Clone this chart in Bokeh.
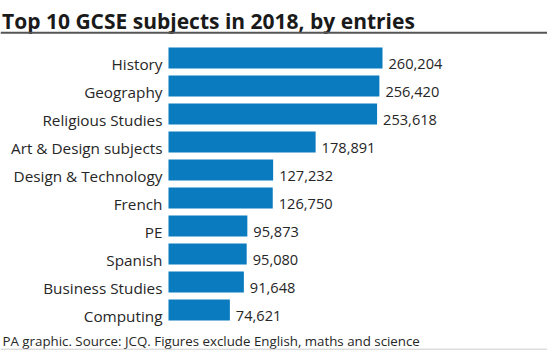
from bokeh.plotting import figure
from bokeh.models import Range1d, Label, Span, ColumnDataSource
from bokeh.core.properties import value
from bokeh.embed import file_html
from bokeh.resources import INLINE

title_text = "Top 10 GCSE subjects in 2018, by entries"
footer_text = "PA graphic. Source: JCQ. Figures exclude English, maths and science"
subjects = ["History", "Geography", "Religious Studies", "Art & Design subjects",
            "Design & Technology", "French", "PE", "Spanish", "Business Studies", "Computing"]
entries = [260204, 256420, 253618, 178891, 127232, 126750, 95873, 95080, 91648, 74621]

FONT = "Open Sans"
BAR = "#0b7bbf"
TXT = "#262626"

n = len(subjects)
src = ColumnDataSource(dict(
    y=[n - 1 - i for i in range(n)],
    v=entries,
    subj=subjects,
    lab=[f"{e:,}" for e in entries],
))

W, H = 547, 350
p = figure(width=W, height=H, x_range=Range1d(-204272, 460830), y_range=Range1d(-1.446, 11.054),
           output_backend="svg", toolbar_location=None, min_border=0,
           x_axis_location=None, y_axis_location=None, outline_line_color=None)
p.grid.visible = False
p.background_fill_color = "white"

p.hbar(y="y", left=0, right="v", height=0.75, source=src, fill_color=BAR, line_color=None)

p.text(x=0, y="y", text="subj", source=src, x_offset=-6, y_offset=5.5,
       text_align="right", text_baseline="alphabetic",
       text_font=value(FONT), text_font_size="15.3px", text_color=TXT)
p.text(x="v", y="y", text="lab", source=src, x_offset=6, y_offset=5.5,
       text_align="left", text_baseline="alphabetic",
       text_font=value(FONT), text_font_size="14.6px", text_color=TXT)

p.add_layout(Label(x=1.5, y=329.5, x_units="screen", y_units="screen", text=title_text,
                   text_font=FONT, text_font_size="21px", text_font_style="bold",
                   text_color="#1a1a1a", text_baseline="alphabetic"))
p.add_layout(Label(x=2, y=10, x_units="screen", y_units="screen", text=footer_text,
                   text_font=FONT, text_font_size="13.3px", text_color=TXT,
                   text_baseline="alphabetic"))

p.add_layout(Span(location=317.7, location_units="screen", dimension="width",
                  line_color="#555555", line_width=2))
p.add_layout(Span(location=1.3, location_units="screen", dimension="width",
                  line_color="#cccccc", line_width=1))

open("out.html", "w").write(file_html(p, INLINE))
